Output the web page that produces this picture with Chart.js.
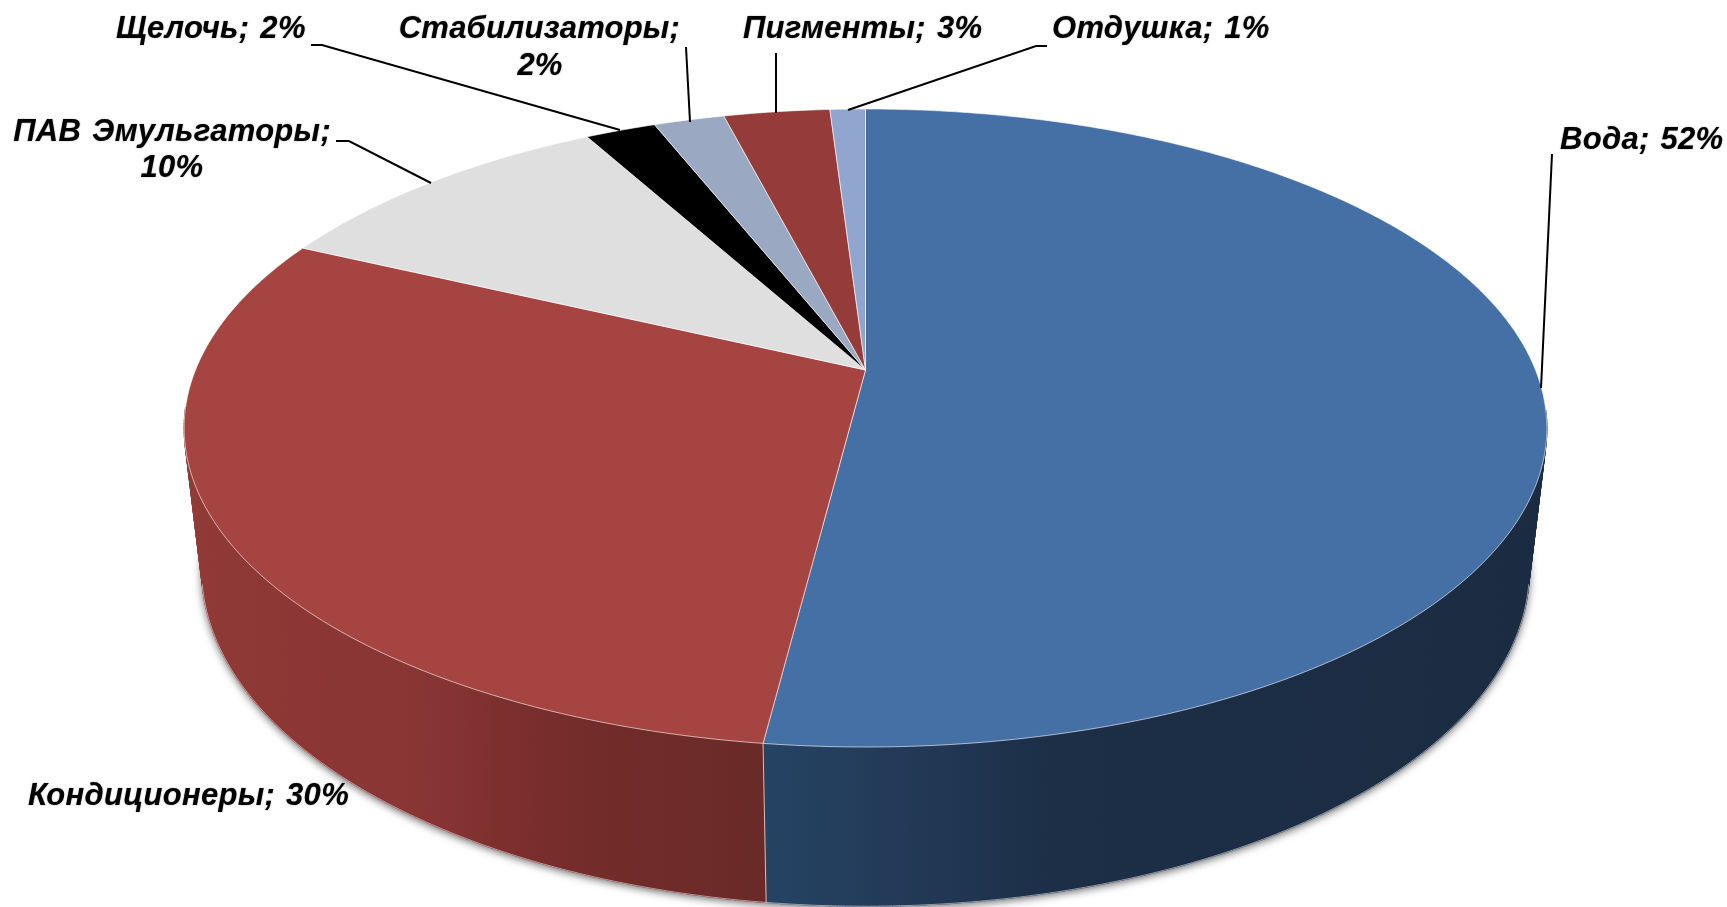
<!DOCTYPE html>
<html lang="ru">
<head>
<meta charset="utf-8">
<title>Состав</title>
<style>
html,body{margin:0;padding:0;background:#fff;overflow:hidden}
#wrap{position:absolute;left:0;top:0;width:1727px;height:907px}
</style>
<script src="https://cdn.jsdelivr.net/npm/chart.js@4/dist/chart.umd.js"></script>
</head>
<body>
<div id="wrap"><canvas id="c" width="1727" height="907"></canvas></div>
<script>
// ---- data ----
const categories = ['Вода','Кондиционеры','ПАВ Эмульгаторы','Щелочь','Стабилизаторы','Пигменты','Отдушка'];
const values = [52,30,10,2,2,3,1];
const sliceColors = ['#4570A6','#A64441','#DFDFDF','#000000','#9AA9C1','#953C3B','#91A6CE'];

// ---- perspective of the disc (fitted to the picture) ----
const VIEW = {cx:865.5, y0:370, A:670, B:241.2, k:-0.1818, vpY:6000, horizonY:-1327, c:1.507e-5};
function topPoint(a){
  const u=Math.cos(a), v=Math.sin(a), d=1+VIEW.k*v;
  return {x:VIEW.cx+VIEW.A*u/d, y:(VIEW.y0+VIEW.B*v)/d};
}
function bottomPoint(a){
  const p=topPoint(a), t=1/(1+VIEW.c*(p.y-VIEW.horizonY));
  return {x:VIEW.cx+(p.x-VIEW.cx)*t, y:VIEW.vpY+(p.y-VIEW.vpY)*t};
}
function sampleAngles(s,e){
  const n=Math.max(2,Math.ceil((e-s)/0.01)), r=[];
  for(let i=0;i<=n;i++) r.push(s+(e-s)*i/n);
  return r;
}
const redStops=[[185,'#913a37'],[300,'#8c3735'],[440,'#873534'],[500,'#7d2f2e'],[600,'#722c2a'],[763,'#6a2a28']];
const blueStops=[[766,'#254363'],[900,'#233a58'],[1050,'#1c2f47'],[1547,'#1b2c42']];
function wallFill(ctx,stops){
  const x0=stops[0][0], x1=stops[stops.length-1][0];
  const g=ctx.createLinearGradient(x0,0,x1,0);
  stops.forEach(s=>g.addColorStop((s[0]-x0)/(x1-x0),s[1]));
  return g;
}

class Arc3D extends Chart.ArcElement{
  draw(ctx){
    const o=this.options;
    ctx.save();
    ctx.beginPath();
    ctx.moveTo(VIEW.cx,VIEW.y0);
    sampleAngles(this.startAngle,this.endAngle).forEach(a=>{const p=topPoint(a);ctx.lineTo(p.x,p.y);});
    ctx.closePath();
    ctx.fillStyle=o.backgroundColor;
    ctx.fill();
    ctx.lineWidth=o.borderWidth;
    ctx.strokeStyle=o.borderColor;
    ctx.lineJoin='round';
    ctx.stroke();
    ctx.restore();
  }
}
Arc3D.id='arc3d';
Arc3D.defaults={...Chart.ArcElement.defaults};
Arc3D.defaultRoutes=Chart.ArcElement.defaultRoutes;
Arc3D.descriptors=Chart.ArcElement.descriptors;

class Pie3DController extends Chart.PieController{
  draw(){
    const ctx=this.chart.ctx, els=this.getMeta().data;
    // soft contact shadow under the base of the disc
    ctx.save();
    ctx.beginPath();
    sampleAngles(0.05,Math.PI-0.05).forEach((a,i)=>{const p=bottomPoint(a);i?ctx.lineTo(p.x,p.y):ctx.moveTo(p.x,p.y);});
    ctx.closePath();
    ctx.shadowColor='rgba(0,0,0,0.62)';
    ctx.shadowBlur=9;
    ctx.shadowOffsetX=0;
    ctx.shadowOffsetY=2;
    ctx.fillStyle='#222';
    ctx.fill();
    ctx.restore();
    // outer wall of the slices: narrow strips, only on the side facing the viewer
    els.forEach((el,i)=>{
      ctx.save();
      const angles=sampleAngles(el.startAngle,el.endAngle);
      const tops=angles.map(topPoint), bots=angles.map(bottomPoint);
      const fill = i===0?wallFill(ctx,blueStops):i===1?wallFill(ctx,redStops):sliceColors[i];
      ctx.fillStyle=fill; ctx.strokeStyle=fill; ctx.lineWidth=1.2; ctx.lineJoin='round';
      for(let j=0;j<angles.length-1;j++){
        if(Math.sin(angles[j])<0.12) continue;
        ctx.beginPath();
        ctx.moveTo(tops[j].x,tops[j].y);
        ctx.lineTo(tops[j+1].x,tops[j+1].y);
        ctx.lineTo(bots[j+1].x,bots[j+1].y);
        ctx.lineTo(bots[j].x,bots[j].y);
        ctx.closePath();
        ctx.fill();
        ctx.stroke();
      }
      ctx.restore();
    });
    // pale edge along the visible foot of the wall
    ctx.save();
    ctx.beginPath();
    sampleAngles(0.22,Math.PI-0.22).forEach((a,i)=>{const p=bottomPoint(a);i?ctx.lineTo(p.x,p.y):ctx.moveTo(p.x,p.y);});
    ctx.strokeStyle='rgba(255,255,255,0.5)';
    ctx.lineWidth=1;
    ctx.stroke();
    ctx.restore();
    // seam between the two front walls
    const seam=els[0].endAngle, a=topPoint(seam), b=bottomPoint(seam);
    ctx.save();
    ctx.beginPath();ctx.moveTo(a.x,a.y);ctx.lineTo(b.x,b.y);
    ctx.strokeStyle='rgba(255,255,255,0.7)';ctx.lineWidth=1;ctx.stroke();
    ctx.restore();
    super.draw();
  }
}
Pie3DController.id='pie3d';
Pie3DController.defaults={...Chart.PieController.defaults,dataElementType:'arc3d'};
Pie3DController.overrides=Chart.PieController.overrides;
Chart.register(Arc3D,Pie3DController);

// ---- labels and leader lines ----
const labelLayout=[
  {lines:[{x:1560,y:149,align:'left'}],leader:[[1552,154],[1541,388]]},
  {lines:[{x:28,y:805,align:'left'}],leader:null},
  {split:true,lines:[{x:331,y:141,align:'right'},{x:172,y:177,align:'center'}],leader:[[336,141],[349,141],[431,183]]},
  {lines:[{x:116,y:38,align:'left'}],leader:[[311,45],[322,45],[620,130]]},
  {split:true,spacing:'0.2px',lines:[{x:680,y:38,align:'right'},{x:540,y:75,align:'center'}],leader:[[686,47],[690,122]]},
  {lines:[{x:743,y:38,align:'left'}],leader:[[776,53],[776,113]]},
  {lines:[{x:1052,y:38,align:'left'}],leader:[[1047,46],[1036,46],[848,110]]},
];
const labelPlugin={
  id:'labels3d',
  afterDatasetsDraw(chart){
    const ctx=chart.ctx;
    ctx.save();
    ctx.fillStyle='#000';
    ctx.font='italic bold 31px "Liberation Sans", Arial, sans-serif';
    ctx.wordSpacing='2px';
    ctx.textBaseline='alphabetic';
    categories.forEach((cat,i)=>{
      const l=labelLayout[i], val=values[i]+'%';
      const texts=l.split?[cat+';',val]:[cat+'; '+val];
      ctx.letterSpacing=l.spacing||'0.3px';
      ctx.shadowColor='rgba(0,0,0,0.45)';
      ctx.shadowBlur=1.5;
      l.lines.forEach((pos,j)=>{
        ctx.textAlign=pos.align;
        ctx.fillText(texts[j],pos.x,pos.y);
      });
      ctx.shadowColor='transparent';
      ctx.shadowBlur=0;
      if(l.leader){
        ctx.beginPath();
        l.leader.forEach((p,j)=>j?ctx.lineTo(p[0],p[1]):ctx.moveTo(p[0],p[1]));
        ctx.strokeStyle='#000';
        ctx.lineWidth=2;
        ctx.stroke();
      }
    });
    ctx.restore();
  }
};

new Chart(document.getElementById('c'),{
  type:'pie3d',
  data:{labels:categories,datasets:[{
    data:values,
    backgroundColor:sliceColors,
    borderColor:'rgba(255,255,255,0.6)',
    borderWidth:1
  }]},
  options:{
    responsive:false,
    animation:false,
    events:[],
    layout:{padding:0},
    plugins:{legend:{display:false},tooltip:{enabled:false},title:{display:false}}
  },
  plugins:[labelPlugin]
});
</script>
</body>
</html>
